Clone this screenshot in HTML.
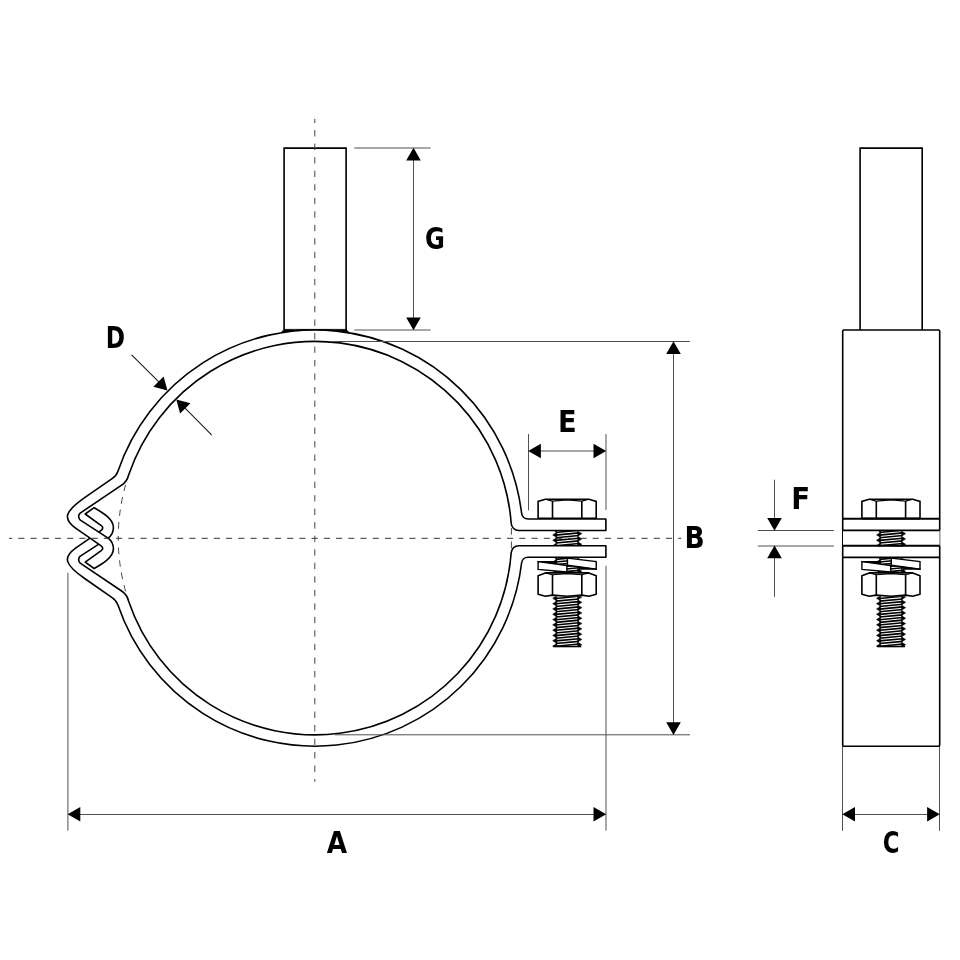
<!DOCTYPE html>
<html lang="en">
<head>
<meta charset="utf-8">
<title>Pipe clamp dimension drawing</title>
<style>
html,body{margin:0;padding:0;background:#fff;}
body{width:960px;height:960px;overflow:hidden;}
svg{display:block;will-change:transform;}
</style>
</head>
<body>
<svg width="960" height="960" viewBox="0 0 960 960" role="img" aria-label="Pipe clamp dimension drawing">
<rect width="960" height="960" fill="#fff"/>
<g stroke="#505050" stroke-width="1" fill="none">
<path d="M354.4,148 H430.6 M354.4,330 H430.6 M413.5,150 V328"/>
<path d="M673.5,343 V733"/>
<path d="M67.9,572.8 V830.6 M606,434 V510 M606,565.8 V830.6 M70,814.5 H603"/>
<path d="M528.5,434 V510.3 M531,451 H603"/>
<path d="M842.5,746 V830.8 M939.5,746 V830.8 M845,814.5 H937"/>
<path d="M757.8,530.5 H834 M757.8,546 H834 M774.5,479.7 V528 M774.5,548 V596.8"/>
</g>
<path d="M125.61,484.8 A196.75,196.75 0 0 0 123.97,491 M122.59,497 A196.75,196.75 0 0 0 121.27,503.75 M120.33,509.6 A196.75,196.75 0 0 0 119.52,515.8 M118.91,522 A196.75,196.75 0 0 0 118.47,528.75 M118.26,536 A196.75,196.75 0 0 0 118.27,540.6 M118.47,547.5 A196.75,196.75 0 0 0 118.91,554.2 M119.52,560.4 A196.75,196.75 0 0 0 120.34,566.7 M121.28,572.5 A196.75,196.75 0 0 0 122.59,579.2 M123.97,585.2 A196.75,196.75 0 0 0 125.61,591.4" stroke="#333" stroke-width="0.9" fill="none"/>
<path d="M511.4,528 V534.7 M511.4,541.5 V548.2" stroke="#333" stroke-width="0.9" fill="none"/>
<path d="M284.1,330.6 V148.1 H346.1 V330.6" fill="#fff" stroke="#000" stroke-width="1.6" stroke-linejoin="miter"/>
<rect x="556.85" y="530.3" width="20.8" height="15.5" fill="#fff"/>
<clipPath id="c567_530"><rect x="551.15" y="530.3" width="32.2" height="16.1"/></clipPath>
<g clip-path="url(#c567_530)">
<path d="M555.65,529.8 L578.85,527.6 M555.65,532.45 L578.85,530.25 M555.65,535.1 L578.85,532.9 M555.65,537.75 L578.85,535.55 M555.65,540.4 L578.85,538.2 M555.65,543.05 L578.85,540.85 M555.65,545.7 L578.85,543.5 M555.65,548.35 L578.85,546.15" stroke="#000" stroke-width="1.6" fill="none"/>
<polygon points="556.85,527 552.65,529.65 556.85,532.3 552.65,534.95 556.85,537.6 552.65,540.25 556.85,542.9 552.65,545.55 556.85,548.2 552.65,550.85 556.85,553.5" fill="#000" stroke="#000" stroke-width="0.5" stroke-linejoin="miter"/>
<polygon points="577.65,525.7 581.85,528.35 577.65,531 581.85,533.65 577.65,536.3 581.85,538.95 577.65,541.6 581.85,544.25 577.65,546.9 581.85,549.55 577.65,552.2" fill="#000" stroke="#000" stroke-width="0.5" stroke-linejoin="miter"/>
</g>
<rect x="556.85" y="557.4" width="20.8" height="15.6" fill="#fff"/>
<clipPath id="c567_557"><rect x="551.15" y="557.4" width="32.2" height="16.2"/></clipPath>
<g clip-path="url(#c567_557)">
<path d="M555.65,556.7 L578.85,554.5 M555.65,559.35 L578.85,557.15 M555.65,562 L578.85,559.8 M555.65,564.65 L578.85,562.45 M555.65,567.3 L578.85,565.1 M555.65,569.95 L578.85,567.75 M555.65,572.6 L578.85,570.4 M555.65,575.25 L578.85,573.05" stroke="#000" stroke-width="1.6" fill="none"/>
<polygon points="556.85,553.9 552.65,556.55 556.85,559.2 552.65,561.85 556.85,564.5 552.65,567.15 556.85,569.8 552.65,572.45 556.85,575.1 552.65,577.75 556.85,580.4" fill="#000" stroke="#000" stroke-width="0.5" stroke-linejoin="miter"/>
<polygon points="577.65,552.6 581.85,555.25 577.65,557.9 581.85,560.55 577.65,563.2 581.85,565.85 577.65,568.5 581.85,571.15 577.65,573.8 581.85,576.45 577.65,579.1" fill="#000" stroke="#000" stroke-width="0.5" stroke-linejoin="miter"/>
</g>
<rect x="556.85" y="596.2" width="20.8" height="50.3" fill="#fff"/>
<clipPath id="c567_596"><rect x="551.15" y="596.2" width="32.2" height="50.9"/></clipPath>
<g clip-path="url(#c567_596)">
<path d="M555.65,598.5 L578.85,596.3 M555.65,601.15 L578.85,598.95 M555.65,603.8 L578.85,601.6 M555.65,606.45 L578.85,604.25 M555.65,609.1 L578.85,606.9 M555.65,611.75 L578.85,609.55 M555.65,614.4 L578.85,612.2 M555.65,617.05 L578.85,614.85 M555.65,619.7 L578.85,617.5 M555.65,622.35 L578.85,620.15 M555.65,625 L578.85,622.8 M555.65,627.65 L578.85,625.45 M555.65,630.3 L578.85,628.1 M555.65,632.95 L578.85,630.75 M555.65,635.6 L578.85,633.4 M555.65,638.25 L578.85,636.05 M555.65,640.9 L578.85,638.7 M555.65,643.55 L578.85,641.35 M555.65,646.2 L578.85,644 M555.65,648.85 L578.85,646.65" stroke="#000" stroke-width="1.6" fill="none"/>
<polygon points="556.85,595.7 552.65,598.35 556.85,601 552.65,603.65 556.85,606.3 552.65,608.95 556.85,611.6 552.65,614.25 556.85,616.9 552.65,619.55 556.85,622.2 552.65,624.85 556.85,627.5 552.65,630.15 556.85,632.8 552.65,635.45 556.85,638.1 552.65,640.75 556.85,643.4 552.65,646.05 556.85,648.7 552.65,651.35 556.85,654" fill="#000" stroke="#000" stroke-width="0.5" stroke-linejoin="miter"/>
<polygon points="577.65,594.4 581.85,597.05 577.65,599.7 581.85,602.35 577.65,605 581.85,607.65 577.65,610.3 581.85,612.95 577.65,615.6 581.85,618.25 577.65,620.9 581.85,623.55 577.65,626.2 581.85,628.85 577.65,631.5 581.85,634.15 577.65,636.8 581.85,639.45 577.65,642.1 581.85,644.75 577.65,647.4 581.85,650.05 577.65,652.7" fill="#000" stroke="#000" stroke-width="0.5" stroke-linejoin="miter"/>
</g>
<line x1="553.25" y1="646.5" x2="581.25" y2="646.5" stroke="#000" stroke-width="1.6"/>
<path d="M538.1,518.8 V501.4 L545.3,499.3 H589 L596.2,501.4 V518.8" fill="#fff" stroke="#000" stroke-width="1.6" stroke-linejoin="miter"/>
<path d="M552.5,518.8 V500.9 M581.8,518.8 V500.9" stroke="#000" stroke-width="1.6" fill="none"/>
<path d="M545.3,499.3 L552.5,501.1 L567.25,499.9 L581.8,501.1 L589,499.3" stroke="#000" stroke-width="1.1" fill="none" stroke-linejoin="round"/>
<path d="M538.1,518.5 H596.2" stroke="#000" stroke-width="1.8" fill="none"/>
<path d="M538.1,561.6 L566.85,565.5 V572 L538.1,569.4 Z" fill="#fff" stroke="#000" stroke-width="1.4" stroke-linejoin="miter"/>
<path d="M537.4,560.9 H556.6 V564.3 L537.4,561.8 Z" fill="#000"/>
<path d="M567.45,558.1 L596.2,561.6 V569.1 L567.45,565.3 Z" fill="#fff" stroke="#000" stroke-width="1.4" stroke-linejoin="miter"/>
<path d="M596.9,569.7 H578.7 V566.4 L596.9,568.8 Z" fill="#000"/>
<path d="M538.1,575.8 L545.4,572.9 H588.9 L596.2,575.8 V594.2 L588.9,596.3 L581.8,595.1 L567.25,596.2 L552.5,595.1 L545.4,596.3 L538.1,594.2 Z" fill="#fff" stroke="#000" stroke-width="1.6" stroke-linejoin="round"/>
<path d="M552.5,574.6 V595.1 M581.8,574.6 V595.1" stroke="#000" stroke-width="1.6" fill="none"/>
<path d="M545.4,572.9 L552.5,574.8 L567.25,573.6 L581.8,574.8 L588.9,572.9" stroke="#000" stroke-width="1.1" fill="none" stroke-linejoin="round"/>
<path d="M605.9,519 L527.89,519 A6.3,6.3 0 0 1 521.63,513.45 A208.1,208.1 0 0 0 117.96,471.15 Q116.3,475.9 112.1,478.6 L85,497.45 C64.5,511.7 62.6,518.7 75.6,528.1 L100.5,545.3 Q104.6,548.15 101.25,550.6 L85.2,562.2 L94.1,568.5 C103,563.5 113.6,557 113.4,548.5 C113.3,544 111,540.2 108.1,538.1 L80.0,519.9 Q77.2,516.0 80.2,513.1 L121.6,485.2 Q127.0,481.7 128.64,475 A196.75,196.75 0 0 1 511.21,523.55 A7.5,7.5 0 0 0 518.69,530.5 L605.9,530.5 Z" transform="matrix(1 0 0 -1 0 1076.20)" fill="#fff" stroke="#000" stroke-width="1.6" stroke-linejoin="round"/>
<path d="M605.9,519 L527.89,519 A6.3,6.3 0 0 1 521.63,513.45 A208.1,208.1 0 0 0 117.96,471.15 Q116.3,475.9 112.1,478.6 L85,497.45 C64.5,511.7 62.6,518.7 75.6,528.1 L100.5,545.3 Q104.6,548.15 101.25,550.6 L85.2,562.2 L94.1,568.5 C103,563.5 113.6,557 113.4,548.5 C113.3,544 111,540.2 108.1,538.1 L80.0,519.9 Q77.2,516.0 80.2,513.1 L121.6,485.2 Q127.0,481.7 128.64,475 A196.75,196.75 0 0 1 511.21,523.55 A7.5,7.5 0 0 0 518.69,530.5 L605.9,530.5 Z" fill="#fff" stroke="#000" stroke-width="1.6" stroke-linejoin="round"/>
<path d="M281.6,332.2 L284.1,329.4 H346.1 L348.6,332.2 A208.1,208.1 0 0 0 281.6,332.2 Z" fill="#000" stroke="#000" stroke-width="0.8"/>
<path d="M330,341.5 H690 M335,734.8 H690" stroke="#505050" stroke-width="1" fill="none"/>
<path d="M860.1,330 V148.1 H922.2 V330" fill="#fff" stroke="#000" stroke-width="1.6" stroke-linejoin="miter"/>
<path d="M842.7,530.3 V331 Q842.7,330 843.7,330 H938.7 Q939.7,330 939.7,331 V530.3 M842.7,545.8 V745.3 Q842.7,746.3 843.7,746.3 H938.7 Q939.7,746.3 939.7,745.3 V545.8" fill="none" stroke="#000" stroke-width="1.6" stroke-linejoin="round"/>
<path d="M842.5,530.3 V545.8" stroke="#000" stroke-width="1" fill="none"/>
<path d="M939.9,530.3 V545.8" stroke="#666" stroke-width="1" fill="none"/>
<rect x="880.65" y="530.3" width="20.8" height="15.5" fill="#fff"/>
<clipPath id="c891_530"><rect x="874.95" y="530.3" width="32.2" height="16.1"/></clipPath>
<g clip-path="url(#c891_530)">
<path d="M879.45,529.8 L902.65,527.6 M879.45,532.45 L902.65,530.25 M879.45,535.1 L902.65,532.9 M879.45,537.75 L902.65,535.55 M879.45,540.4 L902.65,538.2 M879.45,543.05 L902.65,540.85 M879.45,545.7 L902.65,543.5 M879.45,548.35 L902.65,546.15" stroke="#000" stroke-width="1.6" fill="none"/>
<polygon points="880.65,527 876.45,529.65 880.65,532.3 876.45,534.95 880.65,537.6 876.45,540.25 880.65,542.9 876.45,545.55 880.65,548.2 876.45,550.85 880.65,553.5" fill="#000" stroke="#000" stroke-width="0.5" stroke-linejoin="miter"/>
<polygon points="901.45,525.7 905.65,528.35 901.45,531 905.65,533.65 901.45,536.3 905.65,538.95 901.45,541.6 905.65,544.25 901.45,546.9 905.65,549.55 901.45,552.2" fill="#000" stroke="#000" stroke-width="0.5" stroke-linejoin="miter"/>
</g>
<rect x="880.65" y="557.4" width="20.8" height="15.6" fill="#fff"/>
<clipPath id="c891_557"><rect x="874.95" y="557.4" width="32.2" height="16.2"/></clipPath>
<g clip-path="url(#c891_557)">
<path d="M879.45,556.7 L902.65,554.5 M879.45,559.35 L902.65,557.15 M879.45,562 L902.65,559.8 M879.45,564.65 L902.65,562.45 M879.45,567.3 L902.65,565.1 M879.45,569.95 L902.65,567.75 M879.45,572.6 L902.65,570.4 M879.45,575.25 L902.65,573.05" stroke="#000" stroke-width="1.6" fill="none"/>
<polygon points="880.65,553.9 876.45,556.55 880.65,559.2 876.45,561.85 880.65,564.5 876.45,567.15 880.65,569.8 876.45,572.45 880.65,575.1 876.45,577.75 880.65,580.4" fill="#000" stroke="#000" stroke-width="0.5" stroke-linejoin="miter"/>
<polygon points="901.45,552.6 905.65,555.25 901.45,557.9 905.65,560.55 901.45,563.2 905.65,565.85 901.45,568.5 905.65,571.15 901.45,573.8 905.65,576.45 901.45,579.1" fill="#000" stroke="#000" stroke-width="0.5" stroke-linejoin="miter"/>
</g>
<rect x="880.65" y="596.2" width="20.8" height="50.3" fill="#fff"/>
<clipPath id="c891_596"><rect x="874.95" y="596.2" width="32.2" height="50.9"/></clipPath>
<g clip-path="url(#c891_596)">
<path d="M879.45,598.5 L902.65,596.3 M879.45,601.15 L902.65,598.95 M879.45,603.8 L902.65,601.6 M879.45,606.45 L902.65,604.25 M879.45,609.1 L902.65,606.9 M879.45,611.75 L902.65,609.55 M879.45,614.4 L902.65,612.2 M879.45,617.05 L902.65,614.85 M879.45,619.7 L902.65,617.5 M879.45,622.35 L902.65,620.15 M879.45,625 L902.65,622.8 M879.45,627.65 L902.65,625.45 M879.45,630.3 L902.65,628.1 M879.45,632.95 L902.65,630.75 M879.45,635.6 L902.65,633.4 M879.45,638.25 L902.65,636.05 M879.45,640.9 L902.65,638.7 M879.45,643.55 L902.65,641.35 M879.45,646.2 L902.65,644 M879.45,648.85 L902.65,646.65" stroke="#000" stroke-width="1.6" fill="none"/>
<polygon points="880.65,595.7 876.45,598.35 880.65,601 876.45,603.65 880.65,606.3 876.45,608.95 880.65,611.6 876.45,614.25 880.65,616.9 876.45,619.55 880.65,622.2 876.45,624.85 880.65,627.5 876.45,630.15 880.65,632.8 876.45,635.45 880.65,638.1 876.45,640.75 880.65,643.4 876.45,646.05 880.65,648.7 876.45,651.35 880.65,654" fill="#000" stroke="#000" stroke-width="0.5" stroke-linejoin="miter"/>
<polygon points="901.45,594.4 905.65,597.05 901.45,599.7 905.65,602.35 901.45,605 905.65,607.65 901.45,610.3 905.65,612.95 901.45,615.6 905.65,618.25 901.45,620.9 905.65,623.55 901.45,626.2 905.65,628.85 901.45,631.5 905.65,634.15 901.45,636.8 905.65,639.45 901.45,642.1 905.65,644.75 901.45,647.4 905.65,650.05 901.45,652.7" fill="#000" stroke="#000" stroke-width="0.5" stroke-linejoin="miter"/>
</g>
<line x1="877.05" y1="646.5" x2="905.05" y2="646.5" stroke="#000" stroke-width="1.6"/>
<path d="M861.9,518.8 V501.4 L869.1,499.3 H912.8 L920,501.4 V518.8" fill="#fff" stroke="#000" stroke-width="1.6" stroke-linejoin="miter"/>
<path d="M876.3,518.8 V500.9 M905.6,518.8 V500.9" stroke="#000" stroke-width="1.6" fill="none"/>
<path d="M869.1,499.3 L876.3,501.1 L891.05,499.9 L905.6,501.1 L912.8,499.3" stroke="#000" stroke-width="1.1" fill="none" stroke-linejoin="round"/>
<path d="M861.9,518.5 H920" stroke="#000" stroke-width="1.8" fill="none"/>
<path d="M861.9,561.6 L890.65,565.5 V572 L861.9,569.4 Z" fill="#fff" stroke="#000" stroke-width="1.4" stroke-linejoin="miter"/>
<path d="M861.2,560.9 H880.4 V564.3 L861.2,561.8 Z" fill="#000"/>
<path d="M891.25,558.1 L920,561.6 V569.1 L891.25,565.3 Z" fill="#fff" stroke="#000" stroke-width="1.4" stroke-linejoin="miter"/>
<path d="M920.7,569.7 H902.5 V566.4 L920.7,568.8 Z" fill="#000"/>
<path d="M861.9,575.8 L869.2,572.9 H912.7 L920,575.8 V594.2 L912.7,596.3 L905.6,595.1 L891.05,596.2 L876.3,595.1 L869.2,596.3 L861.9,594.2 Z" fill="#fff" stroke="#000" stroke-width="1.6" stroke-linejoin="round"/>
<path d="M876.3,574.6 V595.1 M905.6,574.6 V595.1" stroke="#000" stroke-width="1.6" fill="none"/>
<path d="M869.2,572.9 L876.3,574.8 L891.05,573.6 L905.6,574.8 L912.7,572.9" stroke="#000" stroke-width="1.1" fill="none" stroke-linejoin="round"/>
<path d="M842.7,518.8 H939.7 M842.7,545.8 H939.7" stroke="#000" stroke-width="1.9" fill="none"/>
<path d="M842.7,530.4 H939.7 M842.7,557.4 H939.7" stroke="#000" stroke-width="1.6" fill="none"/>
<path d="M9,538.3 H681.3" stroke="#333" stroke-width="1" stroke-dasharray="6.1 6.12" stroke-dashoffset="2.9" fill="none"/>
<path d="M314.8,118.8 V781.9" stroke="#444" stroke-width="1" stroke-dasharray="6.4 7.12" stroke-dashoffset="2.2" fill="none"/>
<polygon points="413.5,147.8 420.8,160.5 406.2,160.5" fill="#000"/>
<polygon points="413.5,330.3 406.2,317.6 420.8,317.6" fill="#000"/>
<polygon points="673.5,341.2 680.8,353.9 666.2,353.9" fill="#000"/>
<polygon points="673.5,735 666.2,722.3 680.8,722.3" fill="#000"/>
<polygon points="67.6,814.3 80.3,807 80.3,821.6" fill="#000"/>
<polygon points="606.2,814.3 593.5,821.6 593.5,807" fill="#000"/>
<polygon points="528.2,451 540.9,443.7 540.9,458.3" fill="#000"/>
<polygon points="606.2,451 593.5,458.3 593.5,443.7" fill="#000"/>
<polygon points="842.3,814.3 855,807 855,821.6" fill="#000"/>
<polygon points="939.8,814.3 927.1,821.6 927.1,807" fill="#000"/>
<polygon points="774.5,530.7 767.2,518 781.8,518" fill="#000"/>
<polygon points="774.5,545.6 781.8,558.3 767.2,558.3" fill="#000"/>
<path d="M131.6,354.9 L164.85,387.95 M178.88,401.98 L211.8,435.1" stroke="#1a1a1a" stroke-width="1.1" fill="none"/>
<polygon points="167.45,390.55 153.31,386.73 163.63,376.41" fill="#000"/>
<polygon points="176.28,399.38 190.42,403.2 180.1,413.52" fill="#000"/>
<text transform="matrix(0.2424 0 0 0.2967 425.04 248.75)" x="0" y="0" font-family="'DejaVu Sans', 'Liberation Sans', sans-serif" font-weight="700" font-size="100" fill="#000">G</text>
<text transform="matrix(0.2319 0 0 0.3027 105.71 348.20)" x="0" y="0" font-family="'DejaVu Sans', 'Liberation Sans', sans-serif" font-weight="700" font-size="100" fill="#000">D</text>
<text transform="matrix(0.2731 0 0 0.3027 557.94 431.90)" x="0" y="0" font-family="'DejaVu Sans', 'Liberation Sans', sans-serif" font-weight="700" font-size="100" fill="#000">E</text>
<text transform="matrix(0.2650 0 0 0.3007 684.51 547.80)" x="0" y="0" font-family="'DejaVu Sans', 'Liberation Sans', sans-serif" font-weight="700" font-size="100" fill="#000">B</text>
<text transform="matrix(0.2765 0 0 0.3000 791.21 508.90)" x="0" y="0" font-family="'DejaVu Sans', 'Liberation Sans', sans-serif" font-weight="700" font-size="100" fill="#000">F</text>
<text transform="matrix(0.2632 0 0 0.3048 326.77 853.25)" x="0" y="0" font-family="'DejaVu Sans', 'Liberation Sans', sans-serif" font-weight="700" font-size="100" fill="#000">A</text>
<text transform="matrix(0.2290 0 0 0.3007 882.75 853.15)" x="0" y="0" font-family="'DejaVu Sans', 'Liberation Sans', sans-serif" font-weight="700" font-size="100" fill="#000">C</text>
</svg>
</body>
</html>
